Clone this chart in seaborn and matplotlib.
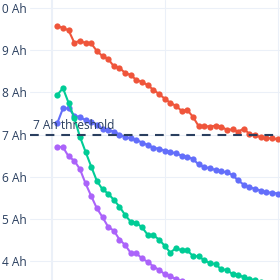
import numpy as np
import pandas as pd
import seaborn as sns
import matplotlib.pyplot as plt

# capacity (Ah) per cycle for each cell
cells = ["Cell A", "Cell B", "Cell C", "Cell D"]
colors = ["#636EFA", "#EF553B", "#00CC96", "#AB63FA"]

cap_a = [7.27, 7.62, 7.62, 7.45, 7.41, 7.34, 7.30, 7.23, 7.14, 7.11,
         7.07, 7.00, 6.94, 6.91, 6.87, 6.81, 6.75, 6.69, 6.66, 6.62,
         6.59, 6.55, 6.50, 6.47, 6.42, 6.29, 6.23, 6.20, 6.16, 6.13,
         6.10, 6.04, 5.91, 5.81, 5.75, 5.71, 5.67, 5.63, 5.62, 5.60]
cap_b = [9.57, 9.53, 9.47, 9.18, 9.22, 9.17, 9.16, 8.98, 8.86, 8.79,
         8.62, 8.58, 8.46, 8.41, 8.29, 8.25, 8.17, 8.06, 7.96, 7.85,
         7.75, 7.68, 7.56, 7.58, 7.42, 7.20, 7.20, 7.19, 7.21, 7.19,
         7.11, 7.12, 7.07, 7.14, 7.01, 6.99, 6.93, 6.91, 6.91, 6.89]
cap_c = [7.94, 8.10, 7.75, 7.39, 6.95, 6.59, 6.24, 5.90, 5.70, 5.60,
         5.45, 5.29, 5.09, 4.93, 4.90, 4.80, 4.62, 4.61, 4.51, 4.36,
         4.20, 4.31, 4.25, 4.25, 4.12, 4.11, 4.02, 3.95, 3.93, 3.80,
         3.79, 3.69, 3.68, 3.61, 3.58, 3.54, 3.50, 3.47]
cap_d = [6.71, 6.70, 6.48, 6.38, 6.18, 5.84, 5.54, 5.25, 5.04, 4.81,
         4.72, 4.51, 4.38, 4.19, 4.18, 4.06, 3.98, 3.87, 3.79, 3.69,
         3.64, 3.57, 3.52, 3.48]
threshold = 7

rows = []
for name, caps in zip(cells, [cap_a, cap_b, cap_c, cap_d]):
    for i, c in enumerate(caps):
        rows.append((name, i + 1, c))
df = pd.DataFrame(rows, columns=["Cell", "Cycle", "Capacity"])

sns.set_style("white")
plt.rcParams["font.family"] = ["Open Sans", "DejaVu Sans"]

fig = plt.figure(figsize=(2.8, 2.8), dpi=100)
ax = fig.add_axes([30 / 280, 0, 250 / 280, 1])

# plotly-like grid
for y in range(4, 11):
    ax.axhline(y, color="#EBF0F8", lw=0.75, zorder=0)
ax.axvline(20, color="#EBF0F8", lw=0.75, zorder=0)
ax.axvline(40, color="#EBF0F8", lw=0.75, zorder=0)
ax.axvline(0, color="#EBF0F8", lw=1.5, zorder=0)

sns.lineplot(data=df, x="Cycle", y="Capacity", hue="Cell", palette=colors,
             marker="o", markersize=4.5, markeredgewidth=0, linewidth=1.5,
             legend=False, ax=ax)

ax.axhline(threshold, color="#2A3F5F", lw=1.5, dashes=(4.2, 3.3), zorder=5)
ax.text(-3.3, threshold + 0.05, "7 Ah threshold", color="#2A3F5F",
        fontsize=8.6, ha="left", va="bottom", zorder=6)

ax.set_xlim(-3.83, 40.4)
ax.set_ylim(3.55, 10.19)
ax.set_yticks(range(4, 11))
ax.set_yticklabels([f"{v} Ah" for v in range(4, 11)])
ax.tick_params(axis="y", length=0, pad=2, labelsize=8.6, labelcolor="#2A3F5F")
ax.set_xticks([])
ax.set_xlabel("")
ax.set_ylabel("")
for s in ax.spines.values():
    s.set_visible(False)

plt.savefig("out.png", dpi=100)
